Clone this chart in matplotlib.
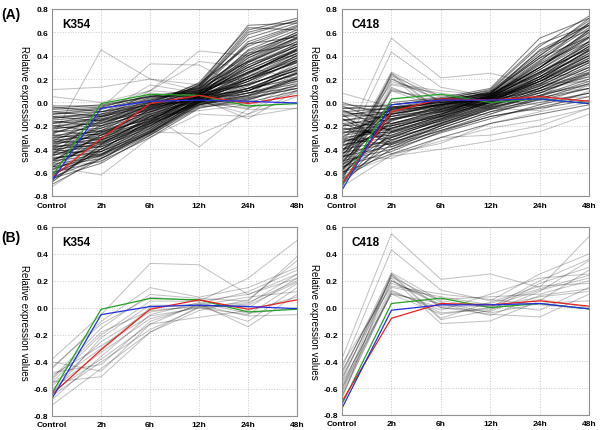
import numpy as np
import matplotlib.pyplot as plt

plt.rcParams['font.family'] = ['Liberation Sans', 'DejaVu Sans']

timepoints = ['Control', '2h', '6h', '12h', '24h', '48h']

# representative profiles (green, blue, red)
k354_green = [-0.63, -0.01, 0.07, 0.06, -0.03, -0.01]
k354_blue = [-0.67, -0.05, 0.01, 0.02, 0.01, -0.005]
k354_red = [-0.64, -0.31, -0.01, 0.06, -0.01, 0.06]

c418_green = [-0.72, 0.03, 0.07, 0.00, 0.03, -0.01]
c418_blue = [-0.75, -0.02, 0.02, 0.02, 0.03, -0.01]
c418_red = [-0.70, -0.08, 0.03, 0.02, 0.05, 0.01]

# genes of panel B (also part of panel A)
k354_sub = [
    [-0.38, -0.05, 0.33, 0.32, 0.10, 0.25],
    [-0.45, -0.10, 0.15, 0.08, 0.15, 0.30],
    [-0.52, -0.15, 0.10, 0.07, 0.05, 0.38],
    [-0.55, -0.20, 0.05, 0.05, 0.22, 0.50],
    [-0.58, -0.25, -0.03, 0.02, 0.00, 0.22],
    [-0.50, -0.28, -0.06, 0.00, -0.05, 0.18],
    [-0.60, -0.33, -0.08, 0.01, -0.10, 0.15],
    [-0.62, -0.38, -0.12, 0.03, -0.14, 0.10],
    [-0.65, -0.40, -0.16, 0.00, 0.03, 0.25],
    [-0.72, -0.45, -0.18, -0.02, 0.06, 0.35],
    [-0.55, -0.51, -0.18, 0.01, 0.04, 0.20],
    [-0.40, -0.47, -0.12, -0.07, -0.02, 0.08],
    [-0.48, -0.42, -0.10, 0.02, 0.08, 0.12],
    [-0.68, -0.36, -0.05, 0.04, -0.04, 0.00],
    [-0.56, -0.30, 0.00, 0.03, 0.12, 0.28],
    [-0.63, -0.22, 0.02, 0.02, -0.06, -0.05],
    [-0.53, -0.18, -0.02, 0.01, 0.02, 0.19],
    [-0.44, -0.12, 0.08, 0.05, 0.10, 0.22],
]

c418_sub = [
    [-0.38, 0.55, 0.21, 0.25, 0.15, 0.53],
    [-0.45, 0.43, 0.13, 0.05, 0.25, 0.40],
    [-0.50, 0.26, 0.05, 0.00, 0.20, 0.36],
    [-0.55, 0.25, 0.00, -0.03, 0.12, 0.35],
    [-0.60, 0.24, -0.09, -0.02, 0.18, 0.30],
    [-0.48, 0.22, -0.12, -0.10, 0.05, 0.28],
    [-0.62, 0.20, 0.02, 0.03, 0.14, 0.24],
    [-0.52, 0.18, 0.06, 0.08, 0.10, 0.20],
    [-0.58, 0.15, 0.08, 0.02, -0.02, 0.15],
    [-0.65, 0.12, -0.02, 0.10, 0.22, 0.25],
    [-0.66, 0.11, 0.00, -0.05, -0.07, 0.10],
    [-0.56, 0.10, -0.05, 0.00, 0.08, 0.12],
    [-0.68, 0.25, -0.08, 0.04, 0.16, 0.18],
    [-0.53, 0.23, 0.04, -0.04, 0.03, 0.05],
    [-0.42, 0.16, 0.10, 0.06, 0.02, -0.01],
    [-0.63, 0.13, -0.04, -0.01, 0.06, 0.00],
    [-0.47, 0.20, 0.01, 0.01, 0.13, 0.22],
    [-0.60, 0.10, 0.03, -0.06, 0.09, 0.14],
]

# scattered single genes of panel A
k354_out = [
    [-0.30, 0.45, 0.20, 0.10, 0.25, 0.45],
    [0.11, 0.13, 0.20, 0.15, 0.35, 0.40],
    [0.05, 0.00, 0.10, 0.44, 0.40, 0.55],
    [-0.20, -0.15, -0.10, -0.38, -0.05, 0.10],
    [-0.40, -0.45, -0.25, -0.27, -0.10, 0.05],
    [-0.55, -0.62, -0.30, -0.10, -0.12, -0.05],
    [-0.10, -0.05, 0.10, 0.35, 0.30, 0.20],
]

c418_out = [
    [-0.62, -0.46, -0.40, -0.33, -0.25, -0.10],
    [0.08, -0.04, -0.06, 0.00, 0.12, 0.25],
    [-0.46, -0.48, -0.30, -0.28, -0.20, -0.05],
    [-0.20, -0.44, -0.35, -0.18, -0.08, 0.00],
    [-0.72, -0.45, -0.33, -0.22, -0.15, -0.05],
]

# dense bulk of panel A
k354_all = [
    [-0.05, -0.02, 0.05, 0.12, 0.35, 0.55],
    [-0.08, -0.05, 0.02, 0.10, 0.30, 0.48],
    [-0.10, -0.08, 0.00, 0.08, 0.25, 0.42],
    [-0.12, -0.10, -0.02, 0.06, 0.20, 0.38],
    [-0.15, -0.12, -0.03, 0.05, 0.18, 0.35],
    [-0.18, -0.15, -0.05, 0.04, 0.22, 0.40],
    [-0.20, -0.18, -0.06, 0.07, 0.28, 0.45],
    [-0.22, -0.20, -0.08, 0.05, 0.15, 0.30],
    [-0.25, -0.22, -0.10, 0.03, 0.12, 0.28],
    [-0.28, -0.25, -0.12, 0.02, 0.10, 0.25],
    [-0.30, -0.27, -0.13, 0.04, 0.32, 0.50],
    [-0.32, -0.30, -0.15, 0.06, 0.40, 0.58],
    [-0.35, -0.32, -0.16, 0.08, 0.45, 0.62],
    [-0.38, -0.34, -0.18, 0.05, 0.38, 0.55],
    [-0.40, -0.36, -0.20, 0.03, 0.25, 0.45],
    [-0.42, -0.38, -0.22, 0.02, 0.18, 0.40],
    [-0.45, -0.40, -0.23, 0.00, 0.10, 0.30],
    [-0.48, -0.42, -0.25, -0.02, 0.05, 0.22],
    [-0.50, -0.45, -0.26, -0.03, 0.02, 0.15],
    [-0.55, -0.48, -0.28, -0.04, 0.00, 0.10],
    [-0.60, -0.50, -0.30, -0.05, 0.03, 0.12],
    [-0.65, -0.52, -0.28, -0.02, 0.08, 0.20],
    [-0.70, -0.48, -0.25, 0.00, 0.12, 0.28],
    [-0.58, -0.40, -0.18, 0.06, 0.30, 0.48],
    [-0.52, -0.35, -0.14, 0.08, 0.42, 0.60],
    [-0.46, -0.30, -0.10, 0.10, 0.50, 0.65],
    [-0.40, -0.26, -0.08, 0.12, 0.58, 0.70],
    [-0.35, -0.22, -0.05, 0.14, 0.62, 0.72],
    [-0.30, -0.18, -0.03, 0.15, 0.55, 0.68],
    [-0.26, -0.15, 0.00, 0.16, 0.48, 0.64],
    [-0.22, -0.12, 0.02, 0.13, 0.40, 0.60],
    [-0.18, -0.10, 0.03, 0.11, 0.35, 0.52],
    [-0.14, -0.08, 0.04, 0.09, 0.28, 0.46],
    [-0.10, -0.06, 0.05, 0.10, 0.22, 0.36],
    [-0.06, -0.04, 0.06, 0.08, 0.15, 0.30],
    [-0.03, -0.03, 0.05, 0.06, 0.10, 0.25],
    [-0.20, -0.25, -0.14, 0.00, 0.08, 0.18],
    [-0.24, -0.28, -0.16, -0.01, 0.06, 0.14],
    [-0.28, -0.32, -0.18, -0.02, 0.04, 0.12],
    [-0.33, -0.35, -0.20, 0.01, 0.14, 0.32],
    [-0.37, -0.38, -0.21, 0.03, 0.20, 0.38],
    [-0.43, -0.42, -0.24, 0.04, 0.26, 0.44],
    [-0.47, -0.44, -0.26, 0.02, 0.22, 0.42],
    [-0.53, -0.46, -0.27, 0.00, 0.16, 0.36],
    [-0.57, -0.44, -0.22, 0.03, 0.20, 0.40],
    [-0.62, -0.42, -0.20, 0.05, 0.24, 0.46],
    [-0.66, -0.40, -0.16, 0.07, 0.34, 0.52],
    [-0.68, -0.36, -0.12, 0.09, 0.44, 0.58],
    [-0.55, -0.32, -0.09, 0.11, 0.52, 0.66],
    [-0.50, -0.28, -0.06, 0.13, 0.60, 0.70],
    [-0.44, -0.24, -0.04, 0.15, 0.66, 0.68],
    [-0.38, -0.20, -0.02, 0.17, 0.64, 0.62],
    [-0.33, -0.16, 0.00, 0.14, 0.50, 0.56],
    [-0.27, -0.13, 0.01, 0.12, 0.42, 0.50],
    [-0.16, -0.20, -0.08, 0.05, 0.20, 0.34],
    [-0.12, -0.16, -0.06, 0.04, 0.16, 0.27],
    [-0.08, -0.12, -0.04, 0.03, 0.12, 0.20],
    [-0.04, -0.08, -0.02, 0.02, 0.08, 0.16],
    [-0.36, -0.28, -0.12, 0.06, 0.30, 0.50],
    [-0.41, -0.33, -0.15, 0.05, 0.34, 0.54],
    [-0.49, -0.37, -0.17, 0.07, 0.36, 0.56],
    [-0.60, -0.45, -0.24, 0.01, 0.10, 0.26],
    [-0.64, -0.48, -0.26, -0.01, 0.06, 0.20],
    [-0.31, -0.24, -0.11, 0.08, 0.26, 0.42],
    [-0.23, -0.17, -0.07, 0.09, 0.32, 0.48],
    [-0.17, -0.14, -0.04, 0.07, 0.26, 0.44],
    [-0.13, -0.11, -0.02, 0.10, 0.38, 0.58],
    [-0.45, -0.34, -0.19, 0.00, 0.20, 0.34],
    [-0.39, -0.30, -0.17, 0.01, 0.12, 0.24],
    [-0.34, -0.26, -0.14, 0.02, 0.18, 0.36],
]

c418_all = [
    [-0.02, -0.04, -0.02, 0.05, 0.30, 0.60],
    [-0.05, -0.06, -0.03, 0.06, 0.35, 0.68],
    [-0.08, -0.05, 0.00, 0.08, 0.40, 0.72],
    [-0.10, -0.08, -0.02, 0.07, 0.28, 0.55],
    [-0.12, -0.10, -0.04, 0.04, 0.22, 0.48],
    [-0.15, -0.12, -0.05, 0.03, 0.18, 0.42],
    [-0.18, -0.15, -0.07, 0.02, 0.15, 0.38],
    [-0.20, -0.18, -0.08, 0.05, 0.25, 0.50],
    [-0.23, -0.20, -0.10, 0.06, 0.32, 0.62],
    [-0.26, -0.22, -0.11, 0.08, 0.38, 0.66],
    [-0.30, -0.25, -0.12, 0.04, 0.30, 0.58],
    [-0.33, -0.28, -0.14, 0.02, 0.20, 0.45],
    [-0.36, -0.30, -0.15, 0.00, 0.12, 0.32],
    [-0.40, -0.33, -0.17, -0.02, 0.08, 0.25],
    [-0.43, -0.35, -0.18, -0.04, 0.05, 0.18],
    [-0.46, -0.38, -0.20, -0.06, 0.02, 0.12],
    [-0.50, -0.40, -0.22, -0.08, 0.00, 0.08],
    [-0.55, -0.42, -0.25, -0.12, -0.05, 0.02],
    [-0.60, -0.44, -0.30, -0.18, -0.10, -0.02],
    [-0.65, -0.36, -0.20, -0.06, 0.06, 0.20],
    [-0.70, -0.30, -0.15, -0.02, 0.12, 0.30],
    [-0.68, -0.25, -0.12, 0.01, 0.18, 0.40],
    [-0.62, -0.20, -0.08, 0.03, 0.24, 0.48],
    [-0.58, -0.15, -0.05, 0.05, 0.30, 0.56],
    [-0.54, -0.10, -0.02, 0.07, 0.36, 0.64],
    [-0.52, -0.05, 0.01, 0.09, 0.42, 0.70],
    [-0.48, -0.02, 0.03, 0.10, 0.48, 0.74],
    [-0.45, 0.00, 0.04, 0.12, 0.55, 0.72],
    [-0.42, -0.08, 0.02, 0.11, 0.50, 0.66],
    [-0.38, -0.12, -0.01, 0.09, 0.44, 0.62],
    [-0.35, -0.16, -0.03, 0.08, 0.38, 0.56],
    [-0.32, -0.19, -0.06, 0.06, 0.33, 0.52],
    [-0.28, -0.23, -0.09, 0.04, 0.26, 0.46],
    [-0.25, -0.26, -0.13, 0.01, 0.20, 0.40],
    [-0.22, -0.29, -0.16, -0.01, 0.16, 0.36],
    [-0.18, -0.32, -0.18, -0.03, 0.12, 0.30],
    [-0.14, -0.35, -0.20, -0.05, 0.08, 0.24],
    [-0.10, -0.38, -0.24, -0.10, 0.03, 0.16],
    [-0.06, -0.25, -0.14, 0.00, 0.22, 0.44],
    [-0.03, -0.18, -0.10, 0.03, 0.28, 0.52],
    [0.00, -0.12, -0.06, 0.05, 0.34, 0.60],
    [-0.40, -0.22, -0.10, 0.02, 0.20, 0.44],
    [-0.44, -0.18, -0.07, 0.04, 0.26, 0.50],
    [-0.50, -0.14, -0.04, 0.06, 0.30, 0.56],
    [-0.56, -0.28, -0.14, 0.00, 0.14, 0.34],
    [-0.60, -0.32, -0.18, -0.04, 0.10, 0.28],
    [-0.66, -0.40, -0.26, -0.14, -0.02, 0.08],
    [-0.64, -0.10, -0.02, 0.04, 0.18, 0.36],
    [-0.70, -0.06, 0.00, 0.06, 0.26, 0.46],
    [-0.30, -0.06, 0.01, 0.07, 0.30, 0.62],
    [-0.27, -0.09, -0.01, 0.05, 0.24, 0.52],
    [-0.20, -0.10, -0.03, 0.04, 0.20, 0.45],
    [-0.16, -0.07, -0.02, 0.03, 0.16, 0.36],
    [-0.12, -0.04, 0.00, 0.02, 0.10, 0.26],
    [-0.08, -0.14, -0.08, 0.00, 0.14, 0.34],
    [-0.37, -0.26, -0.16, -0.03, 0.10, 0.22],
    [-0.47, -0.30, -0.19, -0.05, 0.06, 0.16],
    [-0.53, -0.34, -0.22, -0.08, 0.04, 0.12],
    [-0.34, -0.20, -0.12, 0.01, 0.18, 0.40],
    [-0.24, -0.14, -0.06, 0.03, 0.22, 0.48],
    [-0.57, -0.22, -0.11, 0.02, 0.22, 0.42],
    [-0.41, -0.04, 0.02, 0.08, 0.40, 0.68],
    [-0.05, -0.02, 0.03, 0.07, 0.45, 0.66],
    [-0.14, -0.24, -0.12, 0.00, 0.18, 0.38],
    [-0.31, -0.36, -0.24, -0.12, -0.04, 0.05],
]

x = np.arange(len(timepoints))

fig = plt.figure(figsize=(6.0, 4.31), dpi=100)
boxes = {
    'A1': [0.087, 0.543, 0.408, 0.434],
    'A2': [0.570, 0.543, 0.412, 0.434],
    'B1': [0.087, 0.033, 0.408, 0.438],
    'B2': [0.570, 0.035, 0.412, 0.436],
}
# (box, title, light genes, dense genes, representatives, y-range)
panels = [
    ('A1', 'K354', k354_sub + k354_out, k354_all, (k354_green, k354_blue, k354_red), (-0.8, 0.8)),
    ('A2', 'C418', c418_sub + c418_out, c418_all, (c418_green, c418_blue, c418_red), (-0.8, 0.8)),
    ('B1', 'K354', k354_sub, [], (k354_green, k354_blue, k354_red), (-0.8, 0.6)),
    ('B2', 'C418', c418_sub, [], (c418_green, c418_blue, c418_red), (-0.8, 0.6)),
]

for key, name, light, dense, reps, ylim in panels:
    ax = fig.add_axes(boxes[key])
    for g in light:
        ax.plot(x, g, color='k', alpha=0.24, lw=0.75)
    for g in dense:
        ax.plot(x, g, color='k', alpha=0.5, lw=0.75)
    ax.plot(x, reps[0], color='#22a022', lw=0.9)
    ax.plot(x, reps[2], color='#e8201c', lw=0.9)
    ax.plot(x, reps[1], color='#2030e0', lw=0.9)
    ax.set_xlim(0, len(timepoints) - 1)
    ax.set_ylim(*ylim)
    yt = np.round(np.arange(ylim[0], ylim[1] + 0.01, 0.2), 1)
    ax.set_yticks(yt)
    ax.set_yticklabels(['%.1f' % (v + 0.0) for v in yt])
    ax.set_xticks(x)
    ax.set_xticklabels(timepoints)
    ax.grid(True, ls=':', color='#c8c8c8', lw=0.7)
    ax.tick_params(axis='y', length=0, pad=3, labelsize=6)
    ax.tick_params(axis='x', length=0, pad=4, labelsize=6)
    for lab in ax.get_xticklabels() + ax.get_yticklabels():
        lab.set_fontweight('bold')
    for sp in ax.spines.values():
        sp.set_color('#909090')
        sp.set_linewidth(0.8)
    ax.text(0.04, 0.92, name, transform=ax.transAxes, fontsize=8.5,
            fontweight='bold', va='center', ha='left')
    bb = boxes[key]
    fig.text(bb[0] - 0.047, bb[1] + bb[3] / 2, 'Relative expression values',
             rotation=270, ha='center', va='center', fontsize=7)

fig.text(0.002, 0.965, '(A)', fontsize=10, fontweight='bold', va='center')
fig.text(0.002, 0.448, '(B)', fontsize=10, fontweight='bold', va='center')

fig.savefig('out.png', dpi=100)
